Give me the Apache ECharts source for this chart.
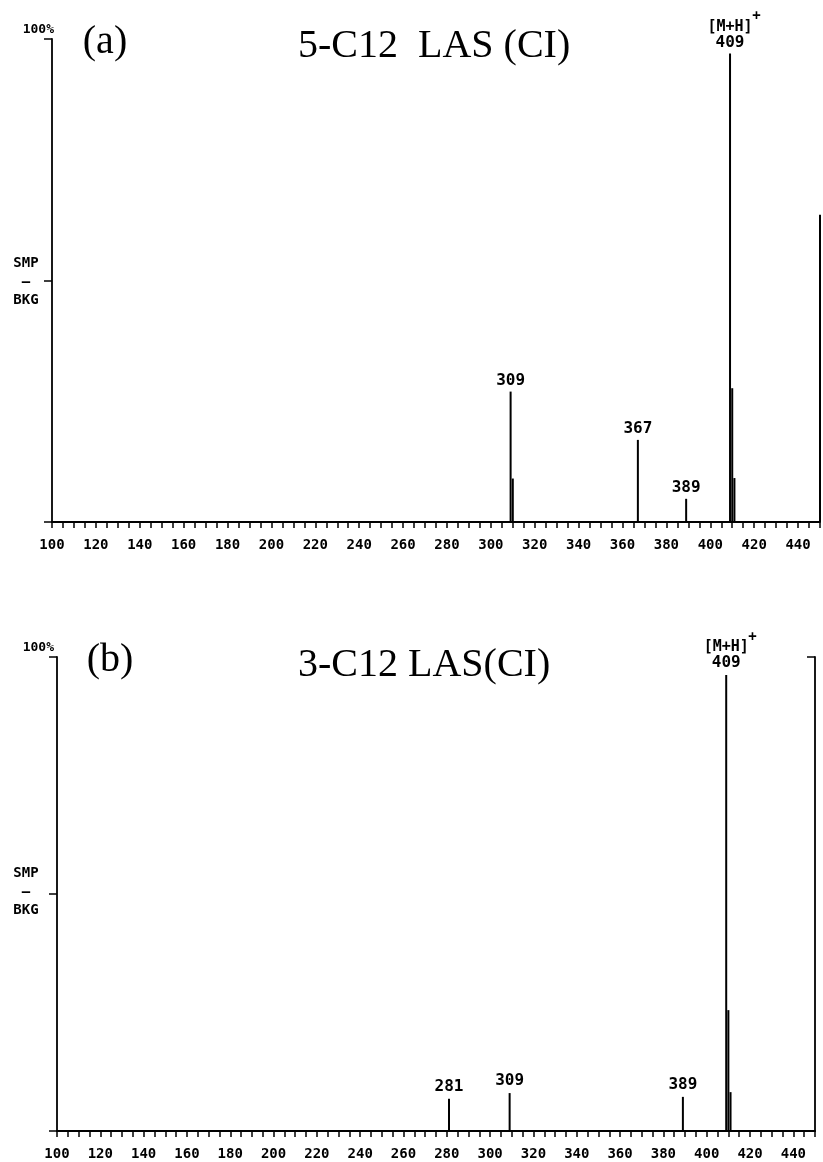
<!DOCTYPE html>
<html><head><meta charset="utf-8">
<script src="https://cdn.jsdelivr.net/npm/echarts@6/dist/echarts.min.js"></script>
<style>html,body{margin:0;padding:0;background:#fff}#c{width:823px;height:1162px}</style>
</head><body><div id="c"></div>
<script>
// ---- data ----
const mzA = [309, 310, 367, 389, 409, 410, 411, 450];
const intA = [27, 9, 17, 4.8, 97, 27.7, 9.1, 63.6];
const labelsA = ['309', '', '367', '389', '409', '', '', ''];
const mzB = [281, 309, 389, 409, 410, 411];
const intB = [6.8, 8.0, 7.2, 96.2, 25.5, 8.2];
const labelsB = ['281', '309', '389', '409', '', ''];
const xTickLabels = [100,120,140,160,180,200,220,240,260,280,300,320,340,360,380,400,420,440];
const panelTitles = ['5-C12  LAS (CI)', '3-C12 LAS(CI)'];
const panelTags = ['(a)', '(b)'];
const molIonMz = 409;
const molIonName = '[M+H]';

const MONO = '"DejaVu Sans Mono", monospace';
const SERIF = '"Liberation Serif", "DejaVu Serif", serif';

function mkData(mz, ints, labs, dist) {
  return mz.map((m, i) => {
    const d = { value: [m, ints[i]] };
    if (labs[i]) {
      d.label = { show: true, position: 'top', distance: dist,
        formatter: m === molIonMz
          ? '{p|+}\n{m|' + molIonName + '}\n{n|' + labs[i] + '}'
          : '{n|' + labs[i] + '}' };
    }
    return d;
  });
}
const rich = {
  n: { fontFamily: MONO, fontWeight: 'bold', fontSize: 16, color: '#000', lineHeight: 16 },
  m: { fontFamily: MONO, fontWeight: 'bold', fontSize: 15, color: '#000', lineHeight: 15 },
  p: { fontFamily: MONO, fontWeight: 'bold', fontSize: 14, color: '#000', lineHeight: 6, align: 'right', padding: [0, -8, 0, 0] }
};

function xAxisFor(gi) {
  return {
    type: 'value', gridIndex: gi, min: 100, max: 450, interval: 5,
    axisLine: { show: true, onZero: false, lineStyle: { color: '#000', width: 1.8 } },
    axisTick: { show: true, length: 6, lineStyle: { color: '#000', width: 1.5 } },
    splitLine: { show: false },
    axisLabel: {
      margin: 16, color: '#000', fontFamily: MONO, fontWeight: 'bold', fontSize: 14,
      formatter: v => xTickLabels.indexOf(v) >= 0 ? String(v) : ''
    }
  };
}
function yAxisFor(gi, pos, inside, interval) {
  return {
    type: 'value', gridIndex: gi, min: 0, max: 100, interval: interval, position: pos,
    axisLine: { show: true, lineStyle: { color: '#000', width: 1.8 } },
    axisTick: { show: true, inside: inside, length: 8, lineStyle: { color: '#000', width: 1.5 } },
    axisLabel: { show: false }, splitLine: { show: false }
  };
}

const chart = echarts.init(document.getElementById('c'), null, { renderer: 'canvas' });

const texts = [];
function labelBlock(y0) {
  texts.push({ type: 'text', x: 54, y: y0 - 9, style: { text: '100%', fill: '#000', font: 'bold 13px ' + MONO, textAlign: 'right', textVerticalAlign: 'middle' } });
}
labelBlock(39); labelBlock(657);
[[282], [892]].forEach(([yc]) => {
  texts.push({ type: 'text', x: 26, y: yc - 19, style: { text: 'SMP', fill: '#000', font: 'bold 14px ' + MONO, textAlign: 'center', textVerticalAlign: 'middle' } });
  texts.push({ type: 'text', x: 26, y: yc, style: { text: '–', fill: '#000', font: 'bold 14px ' + MONO, textAlign: 'center', textVerticalAlign: 'middle' } });
  texts.push({ type: 'text', x: 26, y: yc + 18, style: { text: 'BKG', fill: '#000', font: 'bold 14px ' + MONO, textAlign: 'center', textVerticalAlign: 'middle' } });
});
texts.push({ type: 'text', x: 105, y: 42, style: { text: panelTags[0], fill: '#000', font: '40px ' + SERIF, textAlign: 'center', textVerticalAlign: 'middle' } });
texts.push({ type: 'text', x: 298, y: 46, style: { text: panelTitles[0], fill: '#000', font: '40px ' + SERIF, textAlign: 'left', textVerticalAlign: 'middle' } });
texts.push({ type: 'text', x: 110, y: 660, style: { text: panelTags[1], fill: '#000', font: '40px ' + SERIF, textAlign: 'center', textVerticalAlign: 'middle' } });
texts.push({ type: 'text', x: 298, y: 665, style: { text: panelTitles[1], fill: '#000', font: '40px ' + SERIF, textAlign: 'left', textVerticalAlign: 'middle' } });

chart.setOption({
  animation: false,
  backgroundColor: '#fff',
  grid: [
    { left: 52, top: 39, width: 770, height: 483 },
    { left: 57, top: 657, width: 758, height: 474 }
  ],
  xAxis: [xAxisFor(0), xAxisFor(1)],
  yAxis: [yAxisFor(0, 'left', false, 50), yAxisFor(1, 'left', false, 50), yAxisFor(1, 'right', true, 100)],
  series: [
    { type: 'bar', xAxisIndex: 0, yAxisIndex: 0, barWidth: 2, clip: false,
      itemStyle: { color: '#000' }, label: { rich: rich, color: '#000' },
      data: mkData(mzA, intA, labelsA, 3) },
    { type: 'bar', xAxisIndex: 1, yAxisIndex: 1, barWidth: 2, clip: false,
      itemStyle: { color: '#000' }, label: { rich: rich, color: '#000' },
      data: mkData(mzB, intB, labelsB, 4) }
  ],
  graphic: texts
});
</script></body></html>
